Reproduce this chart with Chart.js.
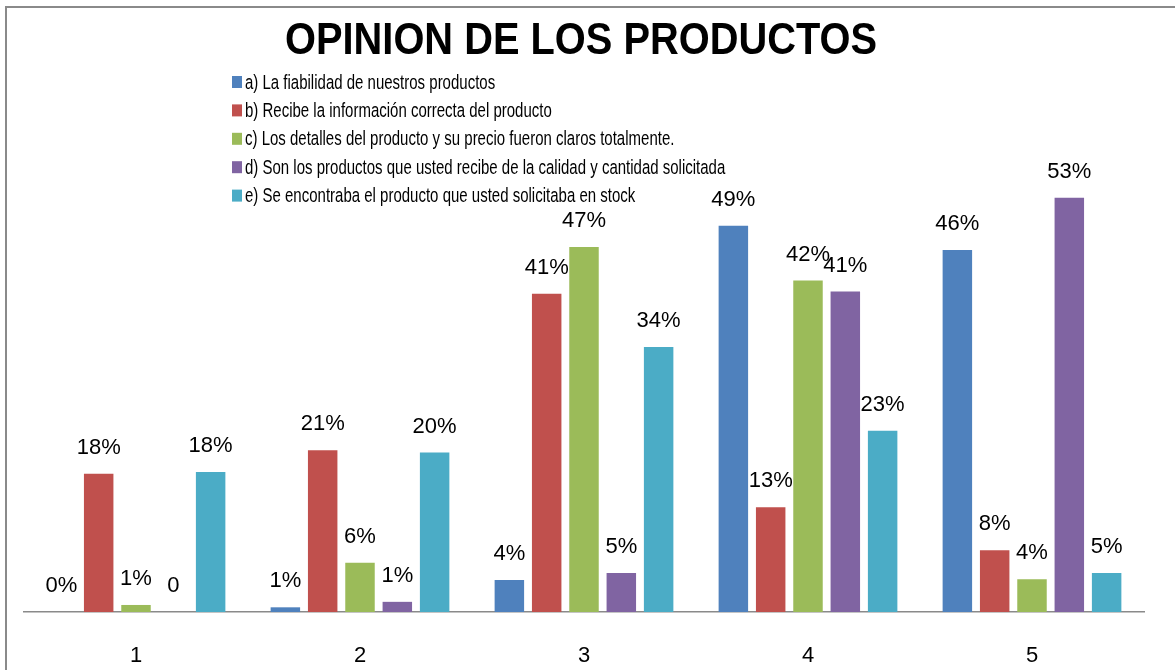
<!DOCTYPE html>
<html>
<head>
<meta charset="utf-8">
<script src="https://cdn.jsdelivr.net/npm/chart.js@4.4.1/dist/chart.umd.min.js"></script>
<style>
html,body{margin:0;padding:0;background:#fff;}
#c{display:block;}
</style>
</head>
<body>
<canvas id="c" width="1175" height="670"></canvas>
<script>
const titleText = "OPINION DE LOS PRODUCTOS";
const categories = ["1", "2", "3", "4", "5"];
const seriesNames = [
  "a) La fiabilidad de nuestros productos",
  "b) Recibe la información correcta del producto",
  "c) Los detalles del producto y su precio fueron claros totalmente.",
  "d) Son los productos que usted recibe de la calidad y cantidad solicitada",
  "e) Se encontraba el producto que usted solicitaba en stock"
];
const seriesA = [0, 0.006, 0.041, 0.494, 0.463];
const seriesB = [0.177, 0.207, 0.407, 0.134, 0.079];
const seriesC = [0.009, 0.063, 0.467, 0.424, 0.042];
const seriesD = [0, 0.013, 0.050, 0.410, 0.530];
const seriesE = [0.179, 0.204, 0.339, 0.232, 0.050];
const seriesColors = ["#4F81BD", "#C0504D", "#9BBB59", "#8064A2", "#4BACC6"];
// data points whose label is shown as a plain number instead of a percentage: [series, index]
const plainLabels = [[3, 0]];

const allSeries = [seriesA, seriesB, seriesC, seriesD, seriesE];

function labelFor(ds, i, v) {
  const plain = plainLabels.some(p => p[0] === ds && p[1] === i);
  return plain ? String(Math.round(v)) : Math.round(v * 100) + "%";
}

const framePlugin = {
  id: 'frame',
  beforeDraw(chart) {
    const ctx = chart.ctx;
    ctx.save();
    ctx.fillStyle = '#fff';
    ctx.fillRect(0, 0, chart.width, chart.height);
    ctx.strokeStyle = '#8a8a8a';
    ctx.lineWidth = 2;
    ctx.beginPath();
    ctx.moveTo(6, chart.height);
    ctx.lineTo(6, 7);
    ctx.lineTo(chart.width, 7);
    ctx.stroke();
    ctx.restore();
  }
};

const decorPlugin = {
  id: 'decor',
  afterDraw(chart) {
    const ctx = chart.ctx;
    // title
    ctx.save();
    ctx.font = "bold 40px 'Liberation Sans', Arial, sans-serif";
    ctx.fillStyle = '#000';
    ctx.textAlign = 'center';
    ctx.textBaseline = 'middle';
    const w = ctx.measureText(titleText).width;
    ctx.translate(581, 42);
    ctx.scale(592 / w, 1.12);
    ctx.fillText(titleText, 0, 0);
    ctx.restore();

    // legend
    ctx.save();
    chart.data.datasets.forEach((ds, i) => {
      const cy = 82 + i * 28.4;
      ctx.fillStyle = ds.backgroundColor;
      ctx.fillRect(232, cy - 6, 10, 12);
      ctx.save();
      ctx.translate(245, cy);
      ctx.scale(1, 1.3);
      ctx.font = "15px 'Liberation Sans', Arial, sans-serif";
      ctx.fillStyle = '#000';
      ctx.textAlign = 'left';
      ctx.textBaseline = 'middle';
      ctx.fillText(ds.label, 0, 1);
      ctx.restore();
    });
    ctx.restore();

    // data labels
    ctx.save();
    ctx.font = "22px 'Liberation Sans', Arial, sans-serif";
    ctx.fillStyle = '#000';
    ctx.textAlign = 'center';
    ctx.textBaseline = 'middle';
    chart.data.datasets.forEach((ds, di) => {
      const meta = chart.getDatasetMeta(di);
      meta.data.forEach((bar, i) => {
        ctx.fillText(labelFor(di, i, ds.data[i]), bar.x, bar.y - 26);
      });
    });
    ctx.restore();
  }
};

new Chart(document.getElementById('c'), {
  type: 'bar',
  data: {
    labels: categories,
    datasets: allSeries.map((vals, i) => ({
      label: seriesNames[i],
      data: vals,
      backgroundColor: seriesColors[i],
      borderWidth: 0,
      categoryPercentage: 0.833,
      barPercentage: 0.79
    }))
  },
  options: {
    responsive: false,
    animation: false,
    events: [],
    layout: { padding: { left: 24, right: 31, top: 143, bottom: 0 } },
    plugins: {
      legend: { display: false },
      title: { display: false },
      tooltip: { enabled: false }
    },
    scales: {
      x: {
        grid: { display: false, drawTicks: false },
        border: { display: true, color: '#8a8a8a', width: 1.5 },
        ticks: {
          font: { family: "'Liberation Sans', Arial, sans-serif", size: 22 },
          color: '#000',
          padding: 31
        },
        afterFit(scale) { scale.height = 58; }
      },
      y: {
        display: false,
        min: 0,
        max: 0.6
      }
    }
  },
  plugins: [framePlugin, decorPlugin]
});
</script>
</body>
</html>
